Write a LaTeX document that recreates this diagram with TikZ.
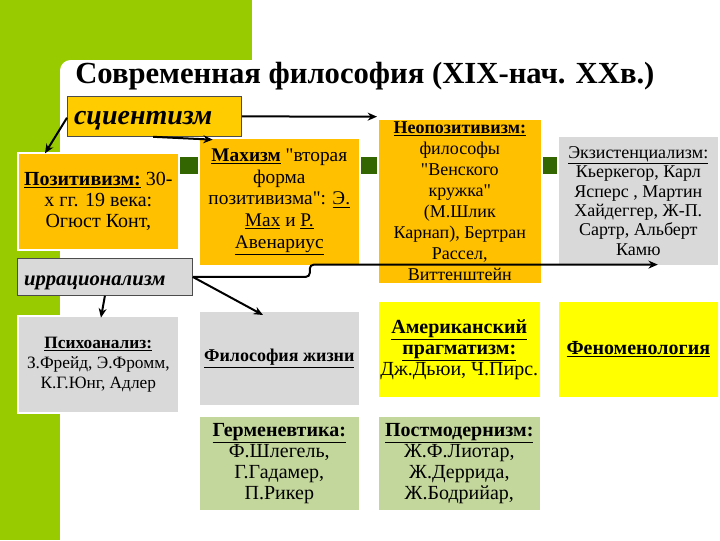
\documentclass[tikz,border=0pt]{standalone}
\usepackage{fontspec}
\setmainfont{Liberation Serif}[Ligatures=TeXOff]
\usetikzlibrary{positioning,arrows.meta,calc}

\definecolor{leafgreen}{HTML}{99CC00}
\definecolor{darkleaf}{HTML}{336600}
\definecolor{orangebox}{HTML}{FFC000}
\definecolor{scientbox}{HTML}{FFCC00}
\definecolor{greybox}{HTML}{D9D9D9}
\definecolor{yellowbox}{HTML}{FFFF00}
\definecolor{greenbox}{HTML}{C3D69B}

\tikzset{
  card/.style={rectangle, draw=white, line width=1.2pt, align=center, inner sep=1pt,
    font=\fontsize{15}{15.75}\selectfont, below right},
  tag/.style={rectangle, draw=black!70, line width=0.6pt, align=left, inner xsep=5pt, inner ysep=0pt,
    text height=12.5pt, text depth=0pt, below right},
  link/.style={-{Stealth[length=7pt,width=6pt]}, line width=1.5pt}
}

\begin{document}
\begin{tikzpicture}[x=1pt, y=-1pt]
      %\draw[help lines] (0, 0) grid (540, 405);
      \useasboundingbox (0, 0) rectangle (540, 405);

      % background
      \fill[leafgreen] (0, 0) rectangle (189, 45);
      \fill[leafgreen] (0, 0) rectangle (45, 405);
      \fill[leafgreen] (45, 45) rectangle (56, 56);
      \fill[white, rounded corners=8pt] (45, 45) rectangle (560, 420);
      \fill[darkleaf] (45, 117.75) rectangle (540, 130.5);

      \node [anchor=base west, inner sep=0pt, font=\fontsize{23}{25}\selectfont\bfseries] (title) at (56.25, 62.25) {Современная философия (XIX-нач. XXв.)};

      \node [tag, fill=scientbox, minimum height=30pt, text width=120.5pt, font=\fontsize{21}{22}\selectfont\bfseries\itshape] (scient) at (50.25, 72) {сциентизм};
      \node [tag, fill=greybox, minimum height=27.75pt, text width=121.25pt, font=\fontsize{15.5}{17}\selectfont\bfseries\itshape] (irr) at (12.75, 193.5) {иррационализм};

      \node [card, fill=orangebox, minimum width=120.75pt, minimum height=72.75pt] (pos) at (12.75, 114)
        {\underline{\textbf{Позитивизм:}} 30-\\х гг. 19 века:\\Огюст Конт,};
      \node [card, fill=orangebox, minimum width=120.75pt, minimum height=96pt, font=\fontsize{14.5}{16.25}\selectfont] (mach) at (148.5, 102.75)
        {\underline{\textbf{Махизм}} "вторая\\форма\\позитивизма": \underline{Э.}\\\underline{Мах} и \underline{Р.}\\\underline{Авенариус}};
      \node [card, fill=orangebox, minimum width=123pt, minimum height=123.75pt, font=\fontsize{13.5}{15.75}\selectfont] (neo) at (282.75, 88.5)
        {\underline{\textbf{Неопозитивизм:}}\\философы\\"Венского\\кружка"\\(М.Шлик\\Карнап), Бертран\\Рассел,\\Виттенштейн};
      \node [card, fill=greybox, minimum width=120.75pt, minimum height=97.5pt, font=\fontsize{13.5}{14.5}\selectfont] (exist) at (417.75, 101.25)
        {\underline{Экзистенциализм:}\\Кьеркегор, Карл\\Ясперс , Мартин\\Хайдеггер, Ж-П.\\Сартр, Альберт\\Камю};

      \node [card, fill=greybox, minimum width=120.75pt, minimum height=72.75pt, font=\fontsize{13}{15}\selectfont] (psy) at (12.75, 236.25)
        {\underline{\textbf{Психоанализ:}}\\З.Фрейд, Э.Фромм,\\К.Г.Юнг, Адлер};
      \node [card, fill=greybox, minimum width=120.75pt, minimum height=71.25pt, font=\fontsize{13.5}{15}\selectfont] (life) at (148.5, 232.5)
        {\underline{\textbf{Философия жизни}}};
      \node [card, fill=yellowbox, minimum width=122.25pt, minimum height=72.75pt] (amer) at (282.75, 225)
        {\underline{\textbf{Американский}}\\\underline{\textbf{прагматизм:}}\\Дж.Дьюи, Ч.Пирс.};
      \node [card, fill=yellowbox, minimum width=120.75pt, minimum height=72.75pt] (phen) at (417.75, 225)
        {\underline{\textbf{Феноменология}}};

      \node [card, fill=greenbox, minimum width=120.75pt, minimum height=71.25pt] (herm) at (148.5, 311.25)
        {\underline{\textbf{Герменевтика:}}\\Ф.Шлегель,\\Г.Гадамер,\\П.Рикер};
      \node [card, fill=greenbox, minimum width=122.25pt, minimum height=71.25pt] (post) at (282.75, 311.25)
        {\underline{\textbf{Постмодернизм:}}\\Ж.Ф.Лиотар,\\Ж.Деррида,\\Ж.Бодрийар,};

      % arrows
      \draw[link] ([yshift=-1pt]scient.west) -- ([xshift=21pt, yshift=-1pt]pos.north west);
      \draw[link] ([xshift=-1pt]scient.south) -- ([xshift=11pt, yshift=-2pt]mach.north west);
      \draw[link] (scient.east) -- ([yshift=1pt]neo.north west);
      \draw[link, rounded corners=3pt] (irr.east) -- ++(87.75pt, 0) |- ([xshift=14.6pt, yshift=1.5pt]exist.south);
      \draw[link] (irr.south) -- ([xshift=2pt, yshift=-2pt]psy.north);
      \draw[link] (irr.east) -- ([xshift=48.75pt, yshift=-3.75pt]life.north west);

    \end{tikzpicture}
\end{document}
